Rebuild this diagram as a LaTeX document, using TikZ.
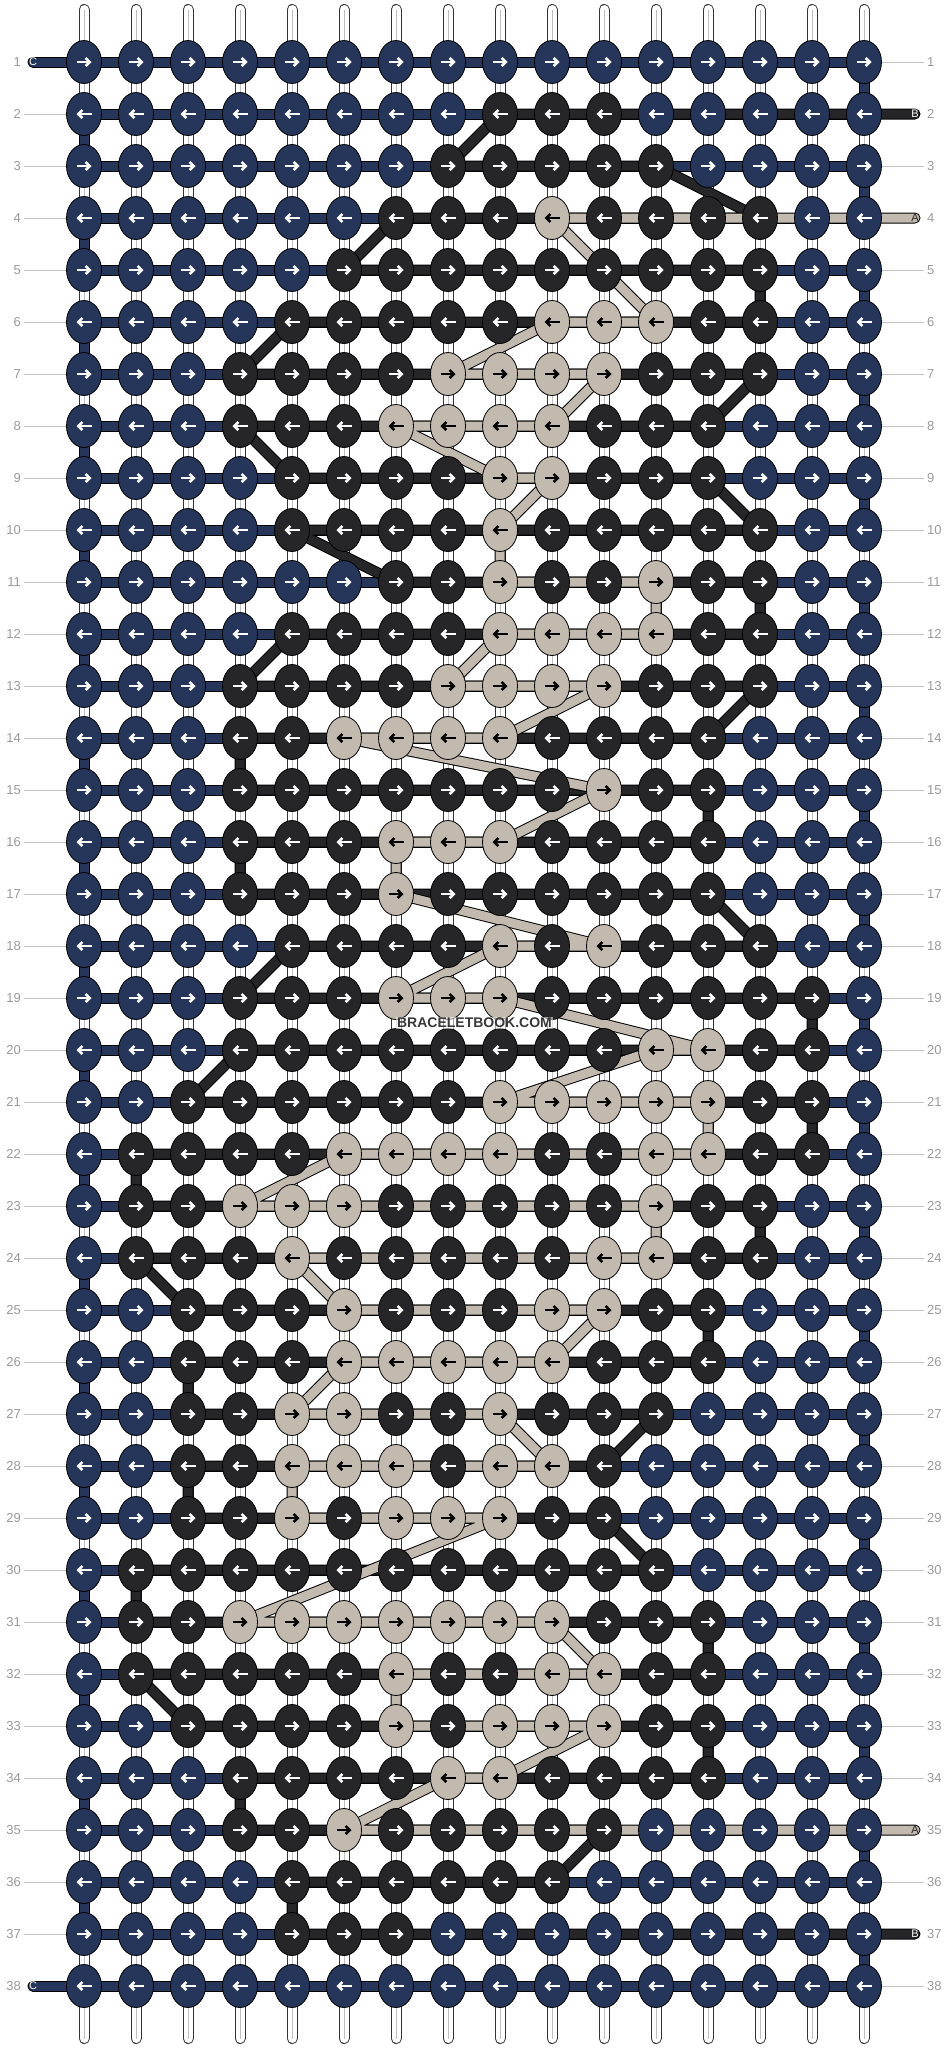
\documentclass[tikz,border=0pt]{standalone}
\usepackage{fontspec}
\setmainfont{Liberation Sans}
\usetikzlibrary{shapes.geometric,arrows.meta}
\definecolor{colA}{HTML}{C2B9AF}
\definecolor{colB}{HTML}{262628}
\definecolor{colC}{HTML}{25365A}
\definecolor{numgray}{HTML}{9A9A9A}
\definecolor{guidegray}{HTML}{C4C4C4}
\pgfdeclarelayer{bg}
\pgfsetlayers{bg,main}
\tikzset{
  knot/.style={ellipse, draw=black, line width=0.8pt, minimum width=35pt, minimum height=43pt, inner sep=0pt},
  knotA/.style={knot, fill=colA},
  knotB/.style={knot, fill=colB},
  knotC/.style={knot, fill=colC},
  arr/.style={line width=2.6pt, -{Straight Barb[length=4pt,width=8pt]}},
  arrA/.style={arr, draw=black},
  arrB/.style={arr, draw=white},
  arrC/.style={arr, draw=white},
  str/.style={line width=9pt, line cap=round, line join=round,
    preaction={draw=black, line width=11pt, line cap=round, line join=round}},
  strA/.style={str, draw=colA},
  strB/.style={str, draw=colB},
  strC/.style={str, draw=colC},
  tube/.style={draw=white, line width=9pt, line cap=round,
    preaction={draw=black!80, line width=11pt, line cap=round},
    postaction={draw=black!25, line width=0.8pt, line cap=butt}},
  num/.style={text=numgray, font=\fontsize{13pt}{13pt}\selectfont, inner sep=3pt},
  guide/.style={draw=guidegray, line width=0.8pt},
  endlab/.style={font=\fontsize{11pt}{11pt}\selectfont, inner sep=0pt},
  wmark/.style={font=\bfseries\fontsize{14pt}{14pt}\selectfont, text=black!78,
    fill=white, fill opacity=0.55, text opacity=1, inner sep=1.5pt}
}
\begin{document}
\begin{tikzpicture}[x=1pt, y=-1pt]
  \useasboundingbox (0,0) rectangle (948,2048);
  % knots, one list per row
  \foreach \row [count=\r] in {
    {C,C,C,C,C,C,C,C,C,C,C,C,C,C,C,C},
    {C,C,C,C,C,C,C,C,B,B,B,C,C,C,C,C},
    {C,C,C,C,C,C,C,B,B,B,B,B,C,C,C,C},
    {C,C,C,C,C,C,B,B,B,A,B,B,B,B,C,C},
    {C,C,C,C,C,B,B,B,B,B,B,B,B,B,C,C},
    {C,C,C,C,B,B,B,B,B,A,A,A,B,B,C,C},
    {C,C,C,B,B,B,B,A,A,A,A,B,B,B,C,C},
    {C,C,C,B,B,B,A,A,A,A,B,B,B,C,C,C},
    {C,C,C,C,B,B,B,B,A,A,B,B,B,C,C,C},
    {C,C,C,C,B,B,B,B,A,B,B,B,B,B,C,C},
    {C,C,C,C,C,C,B,B,A,B,B,A,B,B,C,C},
    {C,C,C,C,B,B,B,B,A,A,A,A,B,B,C,C},
    {C,C,C,B,B,B,B,A,A,A,A,B,B,B,C,C},
    {C,C,C,B,B,A,A,A,A,B,B,B,B,C,C,C},
    {C,C,C,B,B,B,B,B,B,B,A,B,B,C,C,C},
    {C,C,C,B,B,B,A,A,A,B,B,B,B,C,C,C},
    {C,C,C,B,B,B,A,B,B,B,B,B,B,C,C,C},
    {C,C,C,C,B,B,B,B,A,B,A,B,B,B,C,C},
    {C,C,C,B,B,B,A,A,A,B,B,B,B,B,B,C},
    {C,C,C,B,B,B,B,B,B,B,B,A,A,B,B,C},
    {C,C,B,B,B,B,B,B,A,A,A,A,A,B,B,C},
    {C,B,B,B,B,A,A,A,A,B,B,A,A,B,B,C},
    {C,B,B,A,A,A,B,B,B,B,B,A,B,B,C,C},
    {C,B,B,B,A,B,B,B,B,B,A,A,B,B,C,C},
    {C,C,B,B,B,A,B,B,B,A,A,B,B,C,C,C},
    {C,C,B,B,B,A,A,A,A,A,B,B,B,C,C,C},
    {C,C,B,B,A,A,B,B,A,B,B,B,C,C,C,C},
    {C,C,B,B,A,A,A,B,A,A,B,C,C,C,C,C},
    {C,C,B,B,A,B,A,A,A,B,B,C,C,C,C,C},
    {C,B,B,B,B,B,B,B,B,B,B,B,C,C,C,C},
    {C,B,B,A,A,A,A,A,A,A,B,B,B,C,C,C},
    {C,B,B,B,B,B,A,B,B,A,A,B,B,C,C,C},
    {C,C,B,B,B,B,A,B,A,A,A,B,B,C,C,C},
    {C,C,C,B,B,B,B,A,A,B,B,B,B,C,C,C},
    {C,C,C,B,B,A,B,B,B,B,B,C,C,C,C,C},
    {C,C,C,C,B,B,B,B,B,B,C,C,C,C,C,C},
    {C,C,C,C,B,B,B,C,C,C,C,C,C,C,C,C},
    {C,C,C,C,C,C,C,C,C,C,C,C,C,C,C,C}} {
    \foreach \s [count=\c] in \row {
      \node[knot\s] (k-\r-\c) at ({32+52*\c},{10+52*\r}) {};
      \ifodd\r\relax
        \draw[arr\s] ([xshift=-7.5pt]k-\r-\c.center) -- ([xshift=7.5pt]k-\r-\c.center);
      \else
        \draw[arr\s] ([xshift=7.5pt]k-\r-\c.center) -- ([xshift=-7.5pt]k-\r-\c.center);
      \fi
    }
  }
  % loose ends
  \coordinate (endC1) at (33,62);
  \coordinate (endC38) at (33,1986);
  \coordinate (endB2) at (915,114);
  \coordinate (endB37) at (915,1934);
  \coordinate (endA4) at (915,218);
  \coordinate (endA35) at (915,1830);
  % strings
  \begin{pgfonlayer}{bg}
    \foreach \c in {1,...,16} {
      \coordinate (t-\c) at ({32+52*\c},9.5);
      \coordinate (b-\c) at ({32+52*\c},2038.5);
      \draw[tube] (t-\c) -- (b-\c);
    }
    \draw[strC] (endC1) foreach \r/\s in {1/2,3/4,5/6,7/8,9/10,11/12,13/14,15/16,17/18,19/20,21/22,23/24,25/26,27/28,29/30,31/32,33/34,35/36,37/38}
      {-- (k-\r-1.center) -- (k-\r-16.center) -- (k-\s-16.center) -- (k-\s-1.center)} -- (endC38);
    \draw[strB] (endB2) foreach \p in {2-9,3-8,3-12,4-14,4-7,5-6,5-14,6-14,6-5,7-4,7-14,8-13,8-4,9-5,9-13,10-14,10-5,11-7,11-14,12-14,12-5,13-4,13-14,14-13,14-4,15-4,15-13,16-13,16-4,17-4,17-13,18-14,18-5,19-4,19-15,20-15,20-4,21-3,21-15,22-15,22-2,23-2,23-14,24-14,24-2,25-3,25-13,26-13,26-3,27-3,27-12,28-11,28-3,29-3,29-11,30-12,30-2,31-2,31-13,32-13,32-2,33-3,33-13,34-13,34-4,35-4,35-11,36-10,36-5,37-5}
      {-- (k-\p.center)} -- (endB37);
    \draw[strA] (endA4) foreach \p in {4-10,6-12,6-10,7-8,7-11,8-10,8-7,9-9,9-10,10-9,11-9,11-12,12-12,12-9,13-8,13-11,14-9,14-6,15-11,16-9,16-7,17-7,18-11,18-9,19-7,19-9,20-13,20-12,21-9,21-13,22-13,22-6,23-4,23-12,24-12,24-5,25-6,25-11,26-10,26-6,27-5,27-9,28-10,28-5,29-5,29-9,31-4,31-10,32-11,32-7,33-7,33-11,34-9,34-8,35-6}
      {-- (k-\p.center)} -- (endA35);
  \end{pgfonlayer}
  \node[endlab, text=white] (lab-C1) at (endC1) {C};
  \node[endlab, text=white] (lab-C38) at (endC38) {C};
  \node[endlab, text=white] (lab-B2) at (endB2) {B};
  \node[endlab, text=white] (lab-B37) at (endB37) {B};
  \node[endlab, text=black!85] (lab-A4) at (endA4) {A};
  \node[endlab, text=black!85] (lab-A35) at (endA35) {A};
  % row numbers
  \foreach \r in {1,...,38} {
    \node[num, anchor=east] (nl-\r) at (24,{10+52*\r}) {\r};
    \node[num, anchor=west] (nr-\r) at (924,{10+52*\r}) {\r};
  }
  \foreach \r in {2,...,37}
    \draw[guide] (nl-\r) -- (k-\r-1);
  \foreach \r in {1,3,5,6,...,34,36,38}
    \draw[guide] (k-\r-16) -- (nr-\r);
  \node[wmark] (wm) at (474.5,1023) {BRACELETBOOK.COM};
\end{tikzpicture}
\end{document}
